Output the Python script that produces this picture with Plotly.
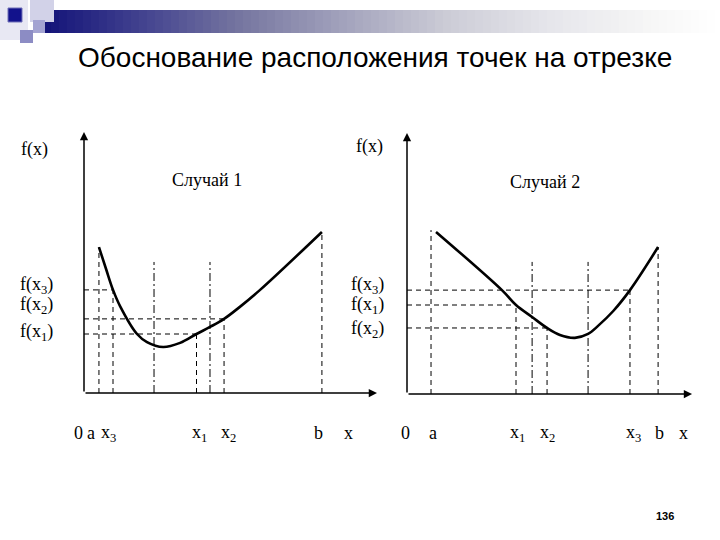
import plotly.graph_objects as go

# ---------------- data (arbitrary units) ----------------
# Case 1 (left panel)
c1_curve_x = [0.51, 0.75, 0.99, 1.23, 1.81, 2.15, 2.70, 3.28, 3.84, 4.30, 4.78, 5.32, 6.01, 8.12]
c1_curve_y = [5.59, 4.76, 3.95, 3.33, 2.26, 1.95, 1.76, 1.92, 2.26, 2.53, 2.84, 3.30, 3.95, 6.17]
c1_dash_vx = [0.51, 0.99, 3.84, 4.78, 8.12]          # a, x3, x1, x2, b
c1_dash_vtop = [5.59, 3.95, 2.26, 2.84, 6.17]
c1_dashdot_vx = [2.39, 4.30]
c1_dashdot_vtop = [5.02, 5.02]
c1_h_y = [3.95, 2.84, 2.26]                            # f(x3), f(x2), f(x1)
c1_h_xend = [0.99, 4.78, 3.84]
c1_axis_len = [10.0, 10.0]                             # x-axis, y-axis

# Case 2 (right panel)
c2_curve_x = [0.99, 3.24, 3.72, 4.27, 4.78, 5.22, 5.73, 6.18, 6.52, 7.04, 7.61, 8.57]
c2_curve_y = [6.21, 3.98, 3.41, 2.95, 2.53, 2.26, 2.15, 2.30, 2.61, 3.18, 3.98, 5.63]
c2_dash_vx = [0.82, 3.72, 4.78, 7.61, 8.57]            # a, x1, x2, x3, b
c2_dash_vtop = [6.28, 3.41, 2.53, 3.98, 5.63]
c2_dashdot_vx = [4.27, 6.18]
c2_dashdot_vtop = [5.06, 5.06]
c2_h_y = [3.98, 3.41, 2.53]                            # f(x3), f(x1), f(x2)
c2_h_xend = [7.61, 3.72, 4.78]
c2_axis_len = [9.73, 10.0]

title_text = "Обоснование расположения точек на отрезке"
page_number = "136"

# ---------------- helpers ----------------
def vsegs(xs, tops):
    X, Y = [], []
    for x, t in zip(xs, tops):
        X += [x, x, None]
        Y += [0, t, None]
    return X, Y

def hsegs(ys, xends):
    X, Y = [], []
    for y, xe in zip(ys, xends):
        X += [0, xe, None]
        Y += [y, y, None]
    return X, Y

fig = go.Figure()
DASH = "5px,4px"
DASHDOT = "8px,3px,2px,3px"

panels = [
    ("x", "y", c1_curve_x, c1_curve_y, c1_dash_vx, c1_dash_vtop, c1_dashdot_vx, c1_dashdot_vtop, c1_h_y, c1_h_xend),
    ("x2", "y2", c2_curve_x, c2_curve_y, c2_dash_vx, c2_dash_vtop, c2_dashdot_vx, c2_dashdot_vtop, c2_h_y, c2_h_xend),
]
for xa, ya, cx, cy, dvx, dvt, ddx, ddt, hy, hx in panels:
    X, Y = vsegs(dvx, dvt)
    fig.add_trace(go.Scatter(x=X, y=Y, mode="lines", xaxis=xa, yaxis=ya,
                             line=dict(color="black", width=1, dash=DASH), showlegend=False, hoverinfo="skip"))
    X, Y = vsegs(ddx, ddt)
    fig.add_trace(go.Scatter(x=X, y=Y, mode="lines", xaxis=xa, yaxis=ya,
                             line=dict(color="black", width=1, dash=DASHDOT), showlegend=False, hoverinfo="skip"))
    X, Y = hsegs(hy, hx)
    fig.add_trace(go.Scatter(x=X, y=Y, mode="lines", xaxis=xa, yaxis=ya,
                             line=dict(color="black", width=1, dash=DASH), showlegend=False, hoverinfo="skip"))
    fig.add_trace(go.Scatter(x=cx, y=cy, mode="lines", xaxis=xa, yaxis=ya,
                             line=dict(color="black", width=2.6, shape="spline", smoothing=1.0),
                             showlegend=False, hoverinfo="skip"))

# axes with arrows
W, H = 720, 540
for xa, ya, L in [("x", "y", c1_axis_len), ("x2", "y2", c2_axis_len)]:
    fig.add_annotation(x=L[0], y=0, ax=0, ay=0, xref=xa, yref=ya, axref=xa, ayref=ya,
                       text="", showarrow=True, arrowhead=2, arrowsize=1.1, arrowwidth=1.5, arrowcolor="black")
    fig.add_annotation(x=0, y=L[1], ax=0, ay=0, xref=xa, yref=ya, axref=xa, ayref=ya,
                       text="", showarrow=True, arrowhead=2, arrowsize=1.1, arrowwidth=1.5, arrowcolor="black")

# layout of the two panels (pixel geometry -> axis ranges)
SX, SY = 29.3, 26.1
fig.update_layout(
    xaxis=dict(domain=[0, 395 / W], range=[(0 - 84) / SX, (395 - 84) / SX], visible=False),
    yaxis=dict(domain=[0, 1], range=[(393 - 540) / SY, (393 - 0) / SY], visible=False),
    xaxis2=dict(domain=[340 / W, 1], range=[(340 - 407) / SX, (720 - 407) / SX], visible=False, anchor="y2"),
    yaxis2=dict(domain=[0, 1], range=[(394 - 540) / SY, (394 - 0) / SY], visible=False, anchor="x2"),
    width=W, height=H, margin=dict(l=0, r=0, t=0, b=0),
    paper_bgcolor="white", plot_bgcolor="rgba(0,0,0,0)",
)

SERIF = "Liberation Serif"
def lab(text, px, py, size=18):
    fig.add_annotation(x=px / W, y=1 - py / H, xref="paper", yref="paper", text=text,
                       showarrow=False, xanchor="center", yanchor="middle",
                       font=dict(family=SERIF, size=size, color="black"))

labels = [
    ("f(x)", 34, 149), ("Случай 1", 207, 180),
    ("f(x<sub>3</sub>)", 36, 285), ("f(x<sub>2</sub>)", 36, 305), ("f(x<sub>1</sub>)", 36, 332),
    ("0", 78, 433), ("a", 91, 433), ("x<sub>3</sub>", 108, 433), ("x<sub>1</sub>", 199, 433),
    ("x<sub>2</sub>", 228, 433), ("b", 318, 433), ("x", 348, 433),
    ("f(x)", 370, 147), ("Случай 2", 545, 182),
    ("f(x<sub>3</sub>)", 367, 285), ("f(x<sub>1</sub>)", 367, 305), ("f(x<sub>2</sub>)", 367, 329),
    ("0", 405, 433), ("a", 433, 433), ("x<sub>1</sub>", 517, 433), ("x<sub>2</sub>", 547, 433),
    ("x<sub>3</sub>", 633, 433), ("b", 659, 433), ("x", 683, 433),
]
for t, px, py in labels:
    lab(t, px, py)

# title and page number
fig.add_annotation(x=375 / W, y=1 - 58 / H, xref="paper", yref="paper", text=title_text,
                   showarrow=False, xanchor="center", yanchor="middle",
                   font=dict(family="Liberation Sans", size=28, color="black"))
fig.add_annotation(x=665 / W, y=1 - 516 / H, xref="paper", yref="paper", text="<b>" + page_number + "</b>",
                   showarrow=False, xanchor="center", yanchor="middle",
                   font=dict(family="Liberation Sans", size=11, color="black"))

# decorative header (gradient bar + squares)
stops = [(43, (18, 18, 120)), (150, (70, 70, 145)), (240, (118, 118, 160)), (350, (165, 165, 190)),
         (450, (205, 205, 215)), (550, (230, 230, 235)), (650, (246, 246, 246)), (720, (255, 255, 255))]
def col_at(x):
    for (x0, c0), (x1, c1) in zip(stops[:-1], stops[1:]):
        if x0 <= x <= x1:
            t = (x - x0) / (x1 - x0)
            return "rgb(%d,%d,%d)" % tuple(round(a + (b - a) * t) for a, b in zip(c0, c1))
    return "white"
shapes = []
step = 8
x = 43
while x < 720:
    shapes.append(dict(type="rect", xref="paper", yref="paper", x0=x / W, x1=min(x + step + 0.5, 720) / W,
                       y0=1 - 33 / H, y1=1 - 10 / H, fillcolor=col_at(x + step / 2), line=dict(width=0), layer="below"))
    x += step
def rect(x0, y0, x1, y1, color, lc=None):
    shapes.append(dict(type="rect", xref="paper", yref="paper", x0=x0 / W, x1=x1 / W, y0=1 - y1 / H, y1=1 - y0 / H,
                       fillcolor=color, line=dict(width=1 if lc else 0, color=lc or color), layer="below"))
rect(0, 0, 28, 40, "#e8e8f3")
rect(30, 0, 54, 22, "#d2d2e8")
rect(33, 20, 45, 33, "#a4a4d2")
rect(20, 30, 33, 43, "#8c8cc4")
rect(8, 8, 22, 22, "#12128c", "#7070b8")
fig.update_layout(shapes=shapes)

fig.write_html("out.html", config={"displayModeBar": False},
               post_script="document.body.style.margin='0';document.body.style.overflow='hidden';")
